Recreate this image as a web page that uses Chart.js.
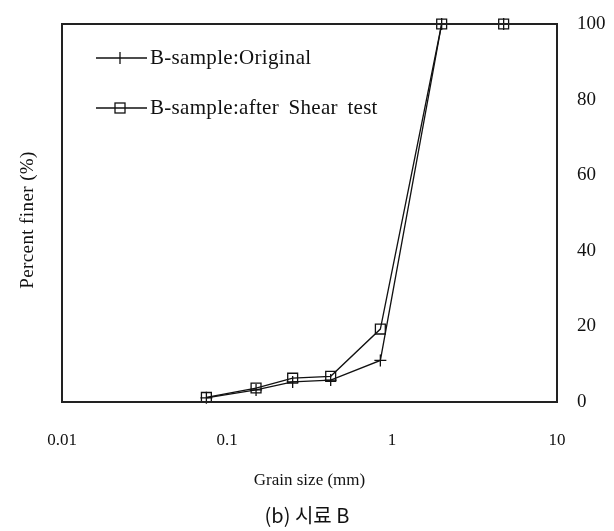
<!DOCTYPE html>
<html>
<head>
<meta charset="utf-8">
<script src="https://cdn.jsdelivr.net/npm/chart.js@4/dist/chart.umd.min.js"></script>
<style>
  html, body { margin: 0; padding: 0; background: #fff; }
  #wrap { width: 614px; height: 531px; position: relative; }
</style>
</head>
<body>
<div id="wrap"><canvas id="c" width="614" height="531"></canvas></div>
<script>
// ---- data ----
const grainSizes = [0.075, 0.15, 0.25, 0.425, 0.85, 2.0, 4.75];
const originalFiner = [1.1, 3.2, 5.3, 5.8, 11.0, 100, 100];
const afterShearFiner = [1.2, 3.7, 6.3, 6.8, 19.3, 100, 100];
const seriesNames = ['B-sample:Original', 'B-sample:after Shear test'];
const xTickValues = [0.01, 0.1, 1, 10];
const xTickLabels = ['0.01', '0.1', '1', '10'];
const yTickValues = [0, 20, 40, 60, 80, 100];
const xTitle = 'Grain size (mm)';
const yTitle = 'Percent finer (%)';
const caption = '(b) 시료 B';

const SERIF = '"Liberation Serif", "Times New Roman", serif';
const INK = '#111';

const toPts = (ys) => grainSizes.map((x, i) => ({ x: x, y: ys[i] }));

const framePlugin = {
  id: 'frame',
  afterDraw(chart) {
    const { ctx, chartArea: a } = chart;
    ctx.save();
    ctx.strokeStyle = '#222';
    ctx.lineWidth = 2;
    ctx.strokeRect(a.left, a.top, a.right - a.left, a.bottom - a.top);

    // legend
    const ds = chart.data.datasets;
    const rows = [58, 108];
    ds.forEach((d, i) => {
      const y = rows[i];
      ctx.strokeStyle = INK;
      ctx.lineWidth = 1.3;
      ctx.beginPath();
      ctx.moveTo(96, y);
      ctx.lineTo(147, y);
      ctx.stroke();
      if (d.pointStyle === 'cross') {
        ctx.beginPath();
        ctx.moveTo(120, y - 6);
        ctx.lineTo(120, y + 6);
        ctx.stroke();
      } else {
        ctx.strokeRect(115, y - 5, 10, 10);
      }
      ctx.fillStyle = INK;
      ctx.font = '21px ' + SERIF;
      try { ctx.letterSpacing = '0.3px'; ctx.wordSpacing = '4px'; } catch (e) {}
      ctx.textBaseline = 'middle';
      ctx.textAlign = 'left';
      ctx.fillText(d.label, 150, y);
      try { ctx.letterSpacing = '0px'; ctx.wordSpacing = '0px'; } catch (e) {}
    });

    // left axis title
    ctx.save();
    ctx.translate(28, 220);
    ctx.rotate(-Math.PI / 2);
    ctx.font = '19px ' + SERIF;
    try { ctx.letterSpacing = '0.4px'; } catch (e) {}
    ctx.textAlign = 'center';
    ctx.textBaseline = 'middle';
    ctx.fillStyle = INK;
    ctx.fillText(yTitle, 0, 0);
    try { ctx.letterSpacing = '0px'; } catch (e) {}
    ctx.restore();

    // caption
    ctx.font = '20px "Noto Sans CJK KR", "Noto Sans", sans-serif';
    ctx.textAlign = 'center';
    ctx.textBaseline = 'middle';
    ctx.fillStyle = INK;
    ctx.fillText(caption, 307, 515);
    ctx.restore();
  }
};

new Chart(document.getElementById('c'), {
  type: 'line',
  data: {
    datasets: [
      {
        label: seriesNames[0],
        data: toPts(originalFiner),
        borderColor: INK,
        borderWidth: 1.3,
        pointStyle: 'cross',
        pointRadius: 6,
        pointBorderWidth: 1.3,
        pointBorderColor: INK,
        backgroundColor: 'transparent',
        tension: 0,
        clip: false
      },
      {
        label: seriesNames[1],
        data: toPts(afterShearFiner),
        borderColor: INK,
        borderWidth: 1.3,
        pointStyle: 'rect',
        pointRadius: 7,
        pointBorderWidth: 1.3,
        pointBorderColor: INK,
        pointBackgroundColor: 'transparent',
        backgroundColor: 'transparent',
        tension: 0,
        clip: false
      }
    ]
  },
  options: {
    responsive: false,
    animation: false,
    devicePixelRatio: 1,
    layout: { padding: { top: 24, left: 62, right: 0, bottom: 0 } },
    plugins: {
      legend: { display: false },
      tooltip: { enabled: false },
      title: { display: false }
    },
    scales: {
      x: {
        type: 'logarithmic',
        position: 'bottom',
        min: xTickValues[0],
        max: xTickValues[xTickValues.length - 1],
        grid: { display: false, drawTicks: true, tickLength: 28 },
        border: { display: false },
        afterBuildTicks(scale) {
          scale.ticks = xTickValues.map(v => ({ value: v }));
        },
        ticks: {
          autoSkip: false,
          maxRotation: 0,
          padding: 0,
          color: INK,
          font: { family: SERIF, size: 17 },
          callback(v) {
            const i = xTickValues.indexOf(v);
            return i >= 0 ? xTickLabels[i] : '';
          }
        },
        title: {
          display: true,
          text: xTitle,
          color: INK,
          font: { family: SERIF, size: 17 },
          padding: { top: 0, bottom: 40 }
        },
        afterFit(scale) { scale.height = 129; }
      },
      y: {
        type: 'linear',
        position: 'right',
        min: 0,
        max: 100,
        grid: { display: false, drawTicks: true, tickLength: 20 },
        border: { display: false },
        afterBuildTicks(scale) {
          scale.ticks = yTickValues.map(v => ({ value: v }));
        },
        ticks: {
          padding: 0,
          color: INK,
          font: { family: SERIF, size: 19 }
        },
        afterFit(scale) { scale.width = 57; }
      }
    }
  },
  plugins: [framePlugin]
});
</script>
</body>
</html>
